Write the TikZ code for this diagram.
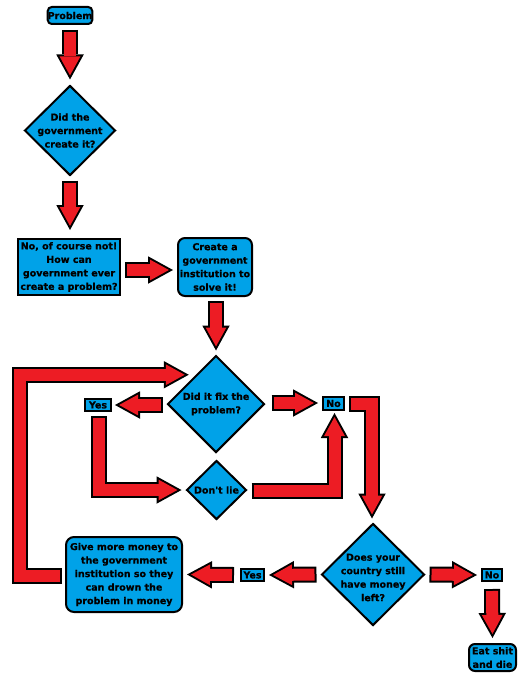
\documentclass[tikz,border=0pt]{standalone}
\usepackage{fontspec}
\setmainfont{DejaVu Sans}[BoldFeatures={FakeBold=0.6}]
\usetikzlibrary{shapes.geometric,arrows.meta,calc}
\definecolor{boxblue}{RGB}{0,162,232}
\definecolor{arrowred}{RGB}{237,28,36}
\tikzset{
  txt/.style={font=\bfseries\fontsize{9.5}{13.5}\selectfont, align=center},
  sbox/.style={txt, draw=black, line width=2pt, fill=boxblue, inner sep=0pt},
  rbox/.style={sbox, rounded corners=#1},
  diam/.style={draw=black, line width=2pt, fill=boxblue, shape=diamond, inner sep=0pt},
  dtxt/.style={txt, inner sep=0pt},
  blk/.style={draw=black, line width=16pt, line join=miter,
    -{Triangle[length=25pt,width=27.5pt,line width=0pt]},
    postaction={draw=arrowred, line width=12pt, line join=miter,
      shorten <=2pt, shorten >=4.1pt,
      -{Triangle[length=18.9pt,width=20.8pt,line width=0pt]}}}
}
\begin{document}
\begin{tikzpicture}[x=1pt,y=-1pt]
\fill[white] (0,0) rectangle (526,682);
\useasboundingbox (0,0) rectangle (526,682);

% nodes
\node[rbox=4pt, minimum width=44, minimum height=17] (problem) at (70,15.5) {Problem};
\node[diam, minimum width=91, minimum height=90,
  label={[dtxt]center:Did the\\government\\create it?}] (q1) at (70,130.5) {};
\node[sbox, minimum width=102, minimum height=56] (nocourse) at (69,267)
  {No, of course not!\\How can\\government ever\\create a problem?};
\node[rbox=7pt, minimum width=74, minimum height=58] (create) at (215,267)
  {Create a\\government\\institution to\\solve it!};
\node[diam, minimum width=97, minimum height=97,
  label={[dtxt]center:Did it fix the\\problem?}] (q2) at (216,404) {};
\node[sbox, minimum width=21, minimum height=13] (no1) at (333.5,403.5) {No};
\node[sbox, minimum width=26, minimum height=12] (yes1) at (98,405) {Yes};
\node[diam, minimum width=60, minimum height=59,
  label={[dtxt]center:Don\textquotesingle t lie}] (dontlie) at (216.5,490) {};
\node[diam, minimum width=103, minimum height=102,
  label={[dtxt,yshift=-3pt]center:Does your\\country still\\have money\\left?}] (q3) at (373,574.5) {};
\node[sbox, minimum width=23, minimum height=12] (yes2) at (252.5,575) {Yes};
\node[sbox, minimum width=20, minimum height=12] (no2) at (492,575) {No};
\node[rbox=8pt, minimum width=116, minimum height=75] (give) at (124,574.5)
  {Give more money to\\the government\\institution so they\\can drown the\\problem in money};
\node[rbox=6pt, minimum width=47, minimum height=27] (eat) at (492.5,657.5) {Eat shit\\and die};

% block arrows
\draw[blk] ($(problem.south)+(0,5)$) -- ($(q1.north)+(0,-5)$);
\draw[blk] ($(q1.south)+(0,4)$) -- ($(q1.south |- nocourse.north)+(0,-8)$);
\draw[blk] ($(nocourse.east)+(4,3)$) -- ($(create.west)+(-4,3)$);
\draw[blk] ($(create.south)+(1,4)$) -- ($(q2.north)+(0,-4)$);
\draw[blk] ($(q2.east)+(6,-1)$) -- ($(no1.west)+(-4,-0.5)$);
\draw[blk] ($(q2.west)+(-4,1)$) -- ($(yes1.east)+(3,0)$);
\draw[blk] ($(yes1.south)+(1,4)$) |- ($(dontlie.west)+(-4,0)$);
\draw[blk] ($(dontlie.east)+(4,1)$) -| ($(no1.south)+(1,2)$);
\draw[blk] ($(no1.east)+(4,0)$) -| ($(q3.north)+(-1,-4)$);
\draw[blk] ($(q3.west)+(-4,0)$) -- ($(yes2.east)+(4,0)$);
\draw[blk] ($(yes2.west)+(-6,0)$) -- ($(give.east)+(4,0)$);
\draw[blk] ($(give.west)+(-3,1)$) -- ++(-42,0) |- ($(q2.north west)+(-2.5,-4.5)$);
\draw[blk] ($(q3.east)+(4,0)$) -- ($(no2.west)+(-4,0)$);
\draw[blk] ($(no2.south)+(0,7)$) -- ($(eat.north)+(0,-5)$);
\end{tikzpicture}
\end{document}
